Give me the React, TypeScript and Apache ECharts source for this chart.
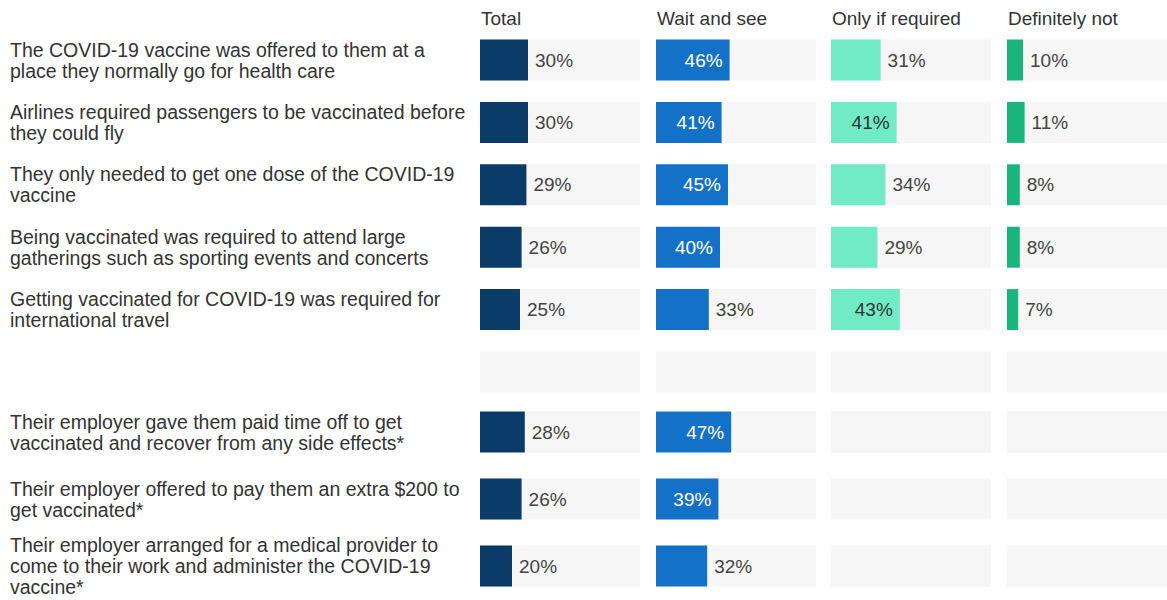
import React, { useEffect, useRef } from "react";
import * as echarts from "echarts";

const panels = ["Total", "Wait and see", "Only if required", "Definitely not"];

const topCategories = [
  "The COVID-19 vaccine was offered to them at a\nplace they normally go for health care",
  "Airlines required passengers to be vaccinated before\nthey could fly",
  "They only needed to get one dose of the COVID-19\nvaccine",
  "Being vaccinated was required to attend large\ngatherings such as sporting events and concerts",
  "Getting vaccinated for COVID-19 was required for\ninternational travel",
  "",
];
const bottomCategories = [
  "Their employer gave them paid time off to get\nvaccinated and recover from any side effects*",
  "Their employer offered to pay them an extra $200 to\nget vaccinated*",
  "Their employer arranged for a medical provider to\ncome to their work and administer the COVID-19\nvaccine*",
];

// values in %, top block (last entry = blank spacer row)
const topTotal = [30, 30, 29, 26, 25, null];
const topWait = [46, 41, 45, 40, 33, null];
const topOnly = [31, 41, 34, 29, 43, null];
const topNot = [10, 11, 8, 8, 7, null];

const bottomTotal = [28, 26, 20];
const bottomWait = [47, 39, 32];
const bottomOnly = [null, null, null];
const bottomNot = [null, null, null];

const colors = ["#0b3b69", "#1471c8", "#70ebc3", "#1ab57c"];
const insideText = ["#ffffff", "#ffffff", "#333333", "#ffffff"];
const AXIS_MAX = 100;

const FONT = "Liberation Sans";

export default function App() {
  const ref = useRef<HTMLDivElement>(null);
  useEffect(() => {
    if (!ref.current) return;
    const chart = echarts.init(ref.current, null, { renderer: "svg" });
    const lefts = [480, 656, 831, 1007];
    const width = 160;
    const blocks = [
      { cats: topCategories, vals: [topTotal, topWait, topOnly, topNot], top: 28.8, height: 374.4 },
      { cats: bottomCategories, vals: [bottomTotal, bottomWait, bottomOnly, bottomNot], top: 398.5, height: 201 },
    ];
    const grid: any[] = [];
    const xAxis: any[] = [];
    const yAxis: any[] = [];
    const series: any[] = [];
    blocks.forEach((b) => {
      panels.forEach((p, pi) => {
        const gi = grid.length;
        grid.push({ left: lefts[pi], top: b.top, width, height: b.height, containLabel: false });
        xAxis.push({ type: "value", gridIndex: gi, min: 0, max: AXIS_MAX, show: false });
        yAxis.push({
          type: "category", gridIndex: gi, data: b.cats, inverse: true,
          axisLine: { show: false }, axisTick: { show: false }, splitLine: { show: false },
          axisLabel: pi === 0 ? {
            show: true, align: "left", margin: 470, fontFamily: FONT, fontSize: 19.5,
            color: "#333333", lineHeight: 21,
          } : { show: false },
        });
        series.push({
          type: "bar", xAxisIndex: gi, yAxisIndex: gi, barWidth: 41, silent: true,
          data: b.cats.map(() => AXIS_MAX),
          itemStyle: { color: "#f6f6f6" }, z: 1, barGap: "-100%",
        });
        series.push({
          type: "bar", xAxisIndex: gi, yAxisIndex: gi, barWidth: 41, barGap: "-100%", z: 2,
          itemStyle: { color: colors[pi] },
          data: b.vals[pi].map((v) => {
            if (v === null) return null;
            const inside = v >= 36;
            return {
              value: v,
              label: {
                show: true,
                position: inside ? "insideRight" : "right",
                distance: 7,
                color: inside ? insideText[pi] : "#444444",
                fontFamily: FONT, fontSize: 19,
                formatter: "{c}%",
              },
            };
          }),
        });
      });
    });
    chart.setOption({
      animation: false,
      backgroundColor: "#ffffff",
      title: panels.map((p, i) => ({
        text: p, left: lefts[i] + 1, top: 9, padding: 0,
        textStyle: { fontFamily: FONT, fontSize: 19, fontWeight: "normal", color: "#333333" },
      })),
      grid, xAxis, yAxis, series,
    });
    return () => chart.dispose();
  }, []);
  return <div ref={ref} style={{ position: "fixed", left: 0, top: 0, width: 1167, height: 600 }} />;
}
